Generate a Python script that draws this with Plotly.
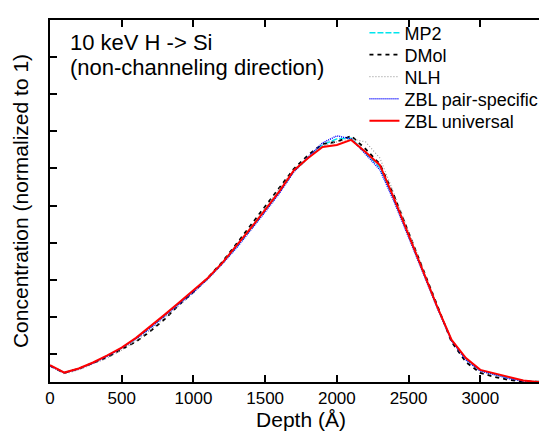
import plotly.graph_objects as go

depth = [0, 100, 200, 300, 400, 500, 600, 700, 800, 900, 1000, 1100, 1200, 1300, 1400, 1500,
         1600, 1700, 1800, 1900, 2000, 2100, 2200, 2300, 2400, 2500, 2600, 2700, 2800, 2900,
         3000, 3100, 3200, 3300, 3400, 3500]

mp2 = [0.049, 0.028, 0.040, 0.057, 0.078, 0.101, 0.129, 0.162, 0.198, 0.234, 0.270, 0.307,
       0.352, 0.401, 0.454, 0.508, 0.564, 0.626, 0.666, 0.704, 0.722, 0.724, 0.680, 0.637,
       0.540, 0.434, 0.329, 0.222, 0.124, 0.068, 0.034, 0.022, 0.012, 0.004, 0.0, 0.0]

dmol = [0.048, 0.027, 0.039, 0.056, 0.074, 0.097, 0.120, 0.151, 0.187, 0.229, 0.267, 0.309,
        0.356, 0.410, 0.466, 0.520, 0.576, 0.633, 0.674, 0.707, 0.713, 0.731, 0.692, 0.647,
        0.552, 0.443, 0.333, 0.223, 0.119, 0.059, 0.027, 0.015, 0.006, 0.0015, 0.0, 0.0]

nlh = [0.048, 0.024, 0.036, 0.053, 0.071, 0.095, 0.122, 0.154, 0.190, 0.226, 0.264, 0.306,
       0.353, 0.407, 0.460, 0.517, 0.573, 0.630, 0.668, 0.701, 0.713, 0.722, 0.713, 0.665,
       0.558, 0.446, 0.336, 0.226, 0.125, 0.068, 0.033, 0.021, 0.012, 0.003, 0.0, 0.0]

zbl_pair = [0.048, 0.027, 0.039, 0.056, 0.077, 0.101, 0.128, 0.160, 0.196, 0.232, 0.267, 0.306,
            0.350, 0.398, 0.451, 0.505, 0.561, 0.624, 0.668, 0.710, 0.731, 0.722, 0.677, 0.630,
            0.535, 0.431, 0.327, 0.220, 0.122, 0.065, 0.033, 0.021, 0.010, 0.003, 0.0, 0.0]

zbl_univ = [0.050, 0.028, 0.040, 0.058, 0.079, 0.102, 0.131, 0.165, 0.200, 0.236, 0.272, 0.309,
            0.353, 0.404, 0.457, 0.511, 0.567, 0.628, 0.665, 0.698, 0.704, 0.719, 0.683, 0.644,
            0.544, 0.437, 0.330, 0.223, 0.125, 0.071, 0.036, 0.025, 0.015, 0.0045, 0.0, 0.0]

x_tickvals = [0, 500, 1000, 1500, 2000, 2500, 3000, 3500]
x_ticktext = ["0", "500", "1000", "1500", "2000", "2500", "3000", ""]

annotation_lines = ["10 keV H -> Si", "(non-channeling direction)"]

FONT = "Liberation Sans, Arial, Helvetica, sans-serif"

series = [
    ("MP2", mp2, dict(color="#00E5EE", width=1.5, dash="6px,2px"), "legend"),
    ("DMol", dmol, dict(color="black", width=1.8, dash="4px,4px"), "legend2"),
    ("NLH", nlh, dict(color="#A0A0A0", width=1.2, dash="1px,2px"), "legend3"),
    ("ZBL pair-specific", zbl_pair, dict(color="#0000FF", width=1.5, dash="1px,1px"), "legend4"),
    ("ZBL universal", zbl_univ, dict(color="#FF0000", width=2), "legend5"),
]

fig = go.Figure()
for name, ys, line, lg in series:
    fig.add_trace(go.Scatter(x=depth, y=ys, mode="lines", name=name, line=line,
                             legend=lg, showlegend=True))

W, H = 547, 432
L, R, T, B = 42, 1, 12, 58
pw, ph = W - L - R, H - T - B

def px_to_paper_y(py):
    return 1 - (py - T) / ph

def px_to_paper_x(px):
    return (px - L) / pw

legend_rows = [25, 47, 69, 91, 113]
legend_common = dict(xanchor="left", yanchor="middle", bgcolor="rgba(0,0,0,0)",
                     borderwidth=0, font=dict(family=FONT, size=18, color="black"),
                     x=px_to_paper_x(357.7))
layout_legends = {}
for key, row in zip(["legend", "legend2", "legend3", "legend4", "legend5"], legend_rows):
    layout_legends[key] = dict(legend_common, y=px_to_paper_y(row))

axis_common = dict(showline=True, linecolor="black", linewidth=1.5, mirror="ticks",
                   ticks="inside", ticklen=7, tickwidth=1.5, tickcolor="black",
                   showgrid=False, zeroline=False)

annotation_rows = [34.5, 59.5]
annotations = [dict(x=px_to_paper_x(60), y=px_to_paper_y(row), xref="paper", yref="paper",
                    xanchor="left", yanchor="middle", align="left", showarrow=False,
                    text=txt, font=dict(size=22, family=FONT, color="black"))
               for txt, row in zip(annotation_lines, annotation_rows)]

fig.update_layout(
    width=W, height=H,
    margin=dict(l=L, r=R, t=T, b=B),
    paper_bgcolor="white", plot_bgcolor="white",
    font=dict(family=FONT, color="black"),
    showlegend=True,
    xaxis=dict(axis_common, range=[0, 3500], tickvals=x_tickvals, ticktext=x_ticktext,
               tickfont=dict(size=17),
               title=dict(text="Depth (Å)", font=dict(size=21), standoff=5)),
    yaxis=dict(axis_common, range=[0, 1.075], tick0=0.0831, dtick=0.1102,
               showticklabels=False,
               title=dict(text="Concentration (normalized to 1)", font=dict(size=21), standoff=14)),
    **layout_legends,
    annotations=annotations,
)

fig.write_html("out.html")
